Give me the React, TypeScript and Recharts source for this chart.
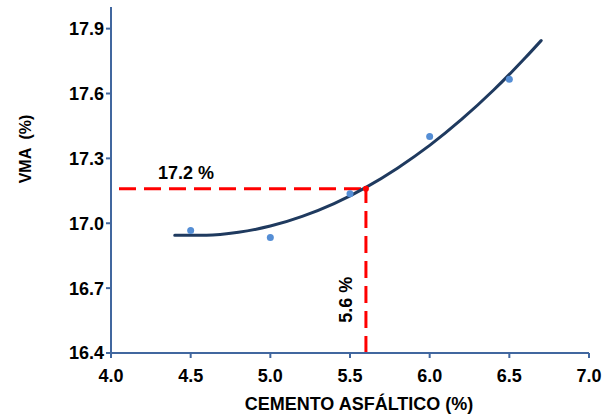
import {
  ComposedChart,
  Line,
  Scatter,
  XAxis,
  YAxis,
  ReferenceLine,
  ReferenceDot,
} from "recharts";

// lab results: asphalt cement content (%) vs VMA (%)
const asphaltPct = [4.5, 5.0, 5.5, 6.0, 6.5];
const vmaPct = [16.967, 16.934, 17.136, 17.401, 17.666];

// trend curve, sampled along its length
const curveX = [4.4, 4.6, 4.8, 5.0, 5.2, 5.4, 5.6, 5.8, 6.0, 6.2, 6.4, 6.6, 6.7];
const curveY = [
  16.944, 16.944, 16.958, 16.987, 17.032, 17.091, 17.166, 17.256, 17.36, 17.48,
  17.615, 17.765, 17.845,
];

const xTicks = [4.0, 4.5, 5.0, 5.5, 6.0, 6.5, 7.0];
const yTicks = [16.4, 16.7, 17.0, 17.3, 17.6, 17.9];

// optimum asphalt content and its VMA
const optAsphalt = 5.6;
const optVma = 17.16;

const FONT = "'Liberation Sans', Arial, sans-serif";
const AXIS = "#41679f";
const RED = "#ff0000";

const points = asphaltPct.map((x, i) => ({ x, y: vmaPct[i] }));
const curve = curveX.map((x, i) => ({ x, y: curveY[i] }));

const textStyle = { fontFamily: FONT, fontWeight: 700, fill: "#000" };

export default function App() {
  return (
    <div style={{ position: "absolute", left: 0, top: 0, background: "#fff" }}>
      <ComposedChart
        width={604}
        height={417}
        margin={{ top: 7, right: 15, bottom: 0, left: 0 }}
      >
        <XAxis
          type="number"
          dataKey="x"
          domain={[4, 7]}
          ticks={xTicks}
          tickFormatter={(v) => v.toFixed(1)}
          height={64}
          tickSize={5}
          tickMargin={11}
          axisLine={{ stroke: AXIS, strokeWidth: 2 }}
          tickLine={{ stroke: AXIS, strokeWidth: 2 }}
          tick={{ ...textStyle, fontSize: 18 }}
          label={{
            content: ({ viewBox }: any) => (
              <text
                x={viewBox.x + viewBox.width / 2 + 9}
                y={410}
                textAnchor="middle"
                fontSize={18}
                {...textStyle}
              >
                CEMENTO ASFÁLTICO (%)
              </text>
            ),
          }}
        />
        <YAxis
          type="number"
          domain={[16.4, 18.0]}
          ticks={yTicks}
          tickFormatter={(v) => v.toFixed(1)}
          width={111}
          tickSize={5}
          axisLine={{ stroke: AXIS, strokeWidth: 2 }}
          tickLine={{ stroke: AXIS, strokeWidth: 2 }}
          tick={{ ...textStyle, fontSize: 18 }}
          label={{
            content: () => (
              <text
                x={31}
                y={149}
                transform="rotate(-90 31 149)"
                textAnchor="middle"
                fontSize={16}
                style={{ whiteSpace: "pre" }}
                {...textStyle}
              >
                {"VMA  (%)"}
              </text>
            ),
          }}
        />
        <ReferenceLine
          segment={[
            { x: 4.0, y: optVma },
            { x: optAsphalt, y: optVma },
          ]}
          stroke={RED}
          strokeWidth={3}
          strokeDasharray="17 8"
          strokeDashoffset={17}
          label={{
            content: ({ viewBox }: any) => (
              <text
                x={viewBox.x + 75}
                y={viewBox.y - 10}
                textAnchor="middle"
                fontSize={18}
                {...textStyle}
              >
                {optVma.toFixed(1)} %
              </text>
            ),
          }}
        />
        <ReferenceLine
          segment={[
            { x: optAsphalt, y: 16.4 },
            { x: optAsphalt, y: optVma },
          ]}
          stroke={RED}
          strokeWidth={3}
          strokeDasharray="17 8"
          label={{
            content: ({ viewBox }: any) => {
              const cx = viewBox.x - 14;
              const cy = viewBox.y + 111;
              return (
                <text
                  x={cx}
                  y={cy}
                  transform={`rotate(-90 ${cx} ${cy})`}
                  textAnchor="middle"
                  fontSize={18}
                  {...textStyle}
                >
                  {optAsphalt.toFixed(1)} %
                </text>
              );
            },
          }}
        />
        <ReferenceDot x={optAsphalt} y={optVma} r={3} fill={RED} stroke="none" />
        <Scatter
          data={points}
          dataKey="y"
          fill="#558ed5"
          shape={(p: any) => <circle cx={p.cx} cy={p.cy} r={3.5} fill="#558ed5" />}
          isAnimationActive={false}
        />
        <Line
          data={curve}
          dataKey="y"
          type="monotone"
          stroke="#1f3a5f"
          strokeWidth={3}
          strokeLinecap="round"
          dot={false}
          activeDot={false}
          isAnimationActive={false}
        />
      </ComposedChart>
    </div>
  );
}
